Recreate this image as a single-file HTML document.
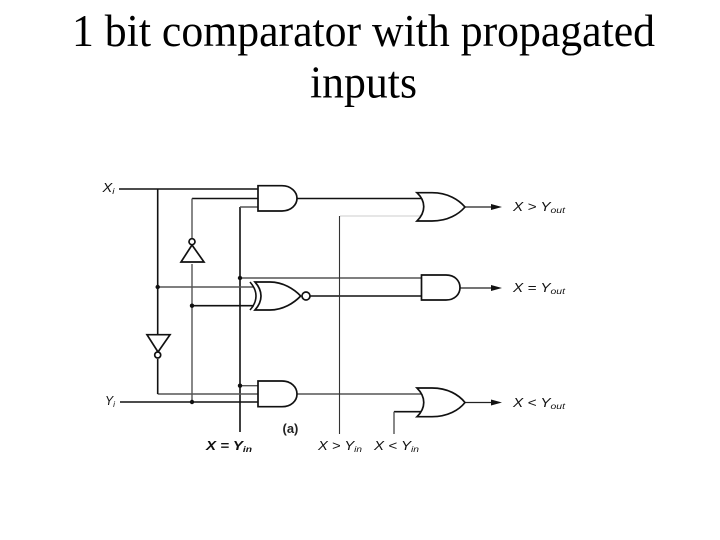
<!DOCTYPE html>
<html><head><meta charset="utf-8"><style>
html,body{margin:0;padding:0;background:#fff;width:720px;height:540px;overflow:hidden}
svg{display:block}
.t{font-family:"Liberation Serif",serif;font-size:45px;fill:#000}
.l{font-family:"Liberation Sans",sans-serif;font-style:italic;font-size:12.5px;fill:#111}
.s{font-size:8.5px}
.w{fill:none;stroke:#111;stroke-width:1.6}
.g{fill:none;stroke:#555;stroke-width:1.4}
.b{fill:#fff;stroke:#111;stroke-width:1.7}
</style></head><body>
<svg width="720" height="540" viewBox="0 0 720 540" xmlns="http://www.w3.org/2000/svg">
<rect width="720" height="540" fill="#fff"/>
<text class="t" x="72" y="46" textLength="583" lengthAdjust="spacingAndGlyphs">1 bit comparator with propagated</text>
<text class="t" x="310" y="97.500" textLength="107" lengthAdjust="spacingAndGlyphs">inputs</text>

<!-- wires -->
<path class="w" d="M119 189H258M157.7 189V335M192 198.5H258M240 207V432"/>
<path class="g" d="M240 207H258M192 198.5V238M192 264V402M157.7 287H254M240 278H422M240 385.7H258M157.7 394H258M297 394H422"/>
<path class="w" d="M192 305.7H254M310 296H422M157.7 359V394M120 402H258M297 198.5H424M394 411.7H421"/>
<path class="g" d="M394 411.7V434"/>
<path d="M340 216H422" fill="none" stroke="#ddd" stroke-width="1.6"/>
<path fill="none" stroke="#333" stroke-width="1.1" d="M339.5 216V434"/>
<path fill="none" stroke="#222" stroke-width="1.2" d="M465 207H496M460 288H496M465 402.5H496"/>

<!-- arrowheads -->
<path d="M502 207L491 204V210ZM502 288L491 285V291ZM502 402.5L491 399.5V405.5Z" fill="#111"/>

<!-- dots -->
<g fill="#111"><circle cx="240" cy="278" r="2.2"/><circle cx="157.7" cy="287" r="2.2"/><circle cx="192" cy="305.7" r="2.2"/><circle cx="240" cy="385.7" r="2.2"/><circle cx="192" cy="402" r="2.2"/></g>

<!-- inverters -->
<path class="b" d="M192 245L181 262H204Z"/><circle class="b" cx="192" cy="241.7" r="3"/>
<path class="b" d="M147 334.7H170L158 352Z"/><circle class="b" cx="157.7" cy="355" r="3"/>

<!-- AND gates -->
<path class="b" d="M258 185.7H282C291 185.7 297 192 297 198.3C297 205 291 211 282 211H258Z"/>
<path class="b" d="M258 381H282C291 381 297 387 297 394C297 401 291 406.7 282 406.7H258Z"/>
<path class="b" d="M421.5 275H446C455 275 460 281 460 287.5C460 294 455 300 446 300H421.5Z"/>

<!-- OR gates -->
<path class="b" d="M417 192.7H432C448 192.7 459 200 465 207C459 214 448 221 432 221H417C426 212 426 201 417 192.7Z"/>
<path class="b" d="M417 388H432C448 388 459 395 465 402.5C459 410 448 416.7 432 416.7H417C426 408 426 397 417 388Z"/>

<!-- XNOR -->
<path class="b" d="M255 282H270C283 282 294 289 300.7 296C294 303 283 310 270 310H255C263 301 263 291 255 282Z"/>
<path class="w" d="M250 282C258 291 258 301 250 310"/>
<circle class="b" cx="306" cy="296" r="4"/>

<!-- labels -->
<text class="l" x="102.500" y="192" textLength="12" lengthAdjust="spacingAndGlyphs">X<tspan class="s" dy="2">i</tspan></text>
<text class="l" x="105" y="405" textLength="10" lengthAdjust="spacingAndGlyphs">Y<tspan class="s" dy="2">i</tspan></text>
<text class="l" x="513" y="211" textLength="52" lengthAdjust="spacingAndGlyphs">X &gt; Y<tspan class="s" dy="2">out</tspan></text>
<text class="l" x="513" y="292" textLength="52" lengthAdjust="spacingAndGlyphs">X = Y<tspan class="s" dy="2">out</tspan></text>
<text class="l" x="513" y="407" textLength="52" lengthAdjust="spacingAndGlyphs">X &lt; Y<tspan class="s" dy="2">out</tspan></text>
<text class="l" x="206" y="450" font-weight="bold" textLength="46" lengthAdjust="spacingAndGlyphs">X = Y<tspan class="s" dy="2">in</tspan></text>
<text class="l" x="318" y="450" textLength="44" lengthAdjust="spacingAndGlyphs">X &gt; Y<tspan class="s" dy="2">in</tspan></text>
<text class="l" x="374" y="450" textLength="45" lengthAdjust="spacingAndGlyphs">X &lt; Y<tspan class="s" dy="2">in</tspan></text>
<text x="282.500" y="433" font-family="Liberation Sans, sans-serif" font-size="13" font-weight="bold" fill="#222">(a)</text>
</svg>
</body></html>
